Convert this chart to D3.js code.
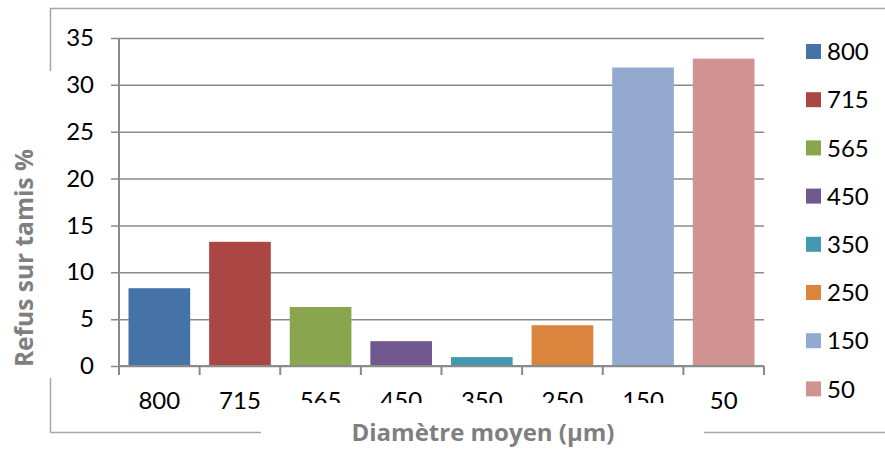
<!DOCTYPE html>
<html>
<head>
<meta charset="utf-8">
<script src="https://cdn.jsdelivr.net/npm/d3@7/dist/d3.min.js"></script>
<style>
  html, body { margin: 0; padding: 0; background: #ffffff; }
  svg { display: block; }
  text { font-family: Lato, "Open Sans", sans-serif; }
  .title { font-family: "Open Sans", Lato, sans-serif; }
</style>
</head>
<body>
<svg id="chart" width="885" height="450"></svg>
<script>
// Sieve residue by mean particle diameter
const categories = ["800", "715", "565", "450", "350", "250", "150", "50"];
const values = [8.3, 13.25, 6.3, 2.65, 0.95, 4.35, 31.85, 32.8];
const colors = ["#4572A7", "#AA4643", "#89A54E", "#71588F", "#4198AF", "#DB843D", "#93A9CF", "#D19392"];
const yTicks = [0, 5, 10, 15, 20, 25, 30, 35];

const svg = d3.select("#chart");
const plot = { left: 119, right: 764, top: 38, bottom: 366 };

const x = d3.scaleBand()
  .domain(categories)
  .range([plot.left, plot.right])
  .paddingInner(0.235)
  .paddingOuter(0.118);

const y = d3.scaleLinear()
  .domain([0, 35])
  .range([plot.bottom, plot.top]);

const gridColor = "#8a8a8a";
const frameColor = "#a6a6a6";

// Outer chart frame (broken where the axis titles sit)
const frame = svg.append("g")
  .attr("fill", "none")
  .attr("stroke", frameColor)
  .attr("stroke-width", 1.5);
frame.append("path").attr("d", "M50.5,432.5 V8.5 H885");
frame.append("path").attr("d", "M50.5,432.5 H885");

// Horizontal gridlines with outward tick stubs
const yAxis = d3.axisLeft(y)
  .tickValues(yTicks)
  .tickSize(plot.right - plot.left + 8)
  .tickFormat(d3.format("d"));
const gy = svg.append("g")
  .attr("transform", `translate(${plot.right},0)`)
  .call(yAxis);
gy.select(".domain").remove();
gy.selectAll(".tick line").attr("stroke", gridColor).attr("stroke-width", 1.5);
gy.selectAll(".tick text")
  .attr("fill", "#000")
  .attr("font-size", 24)
  .attr("x", -(plot.right - 94));

// Bars
svg.append("g")
  .selectAll("rect")
  .data(categories)
  .join("rect")
  .attr("x", d => x(d))
  .attr("width", x.bandwidth())
  .attr("y", (d, i) => y(values[i]))
  .attr("height", (d, i) => y(0) - y(values[i]))
  .attr("fill", (d, i) => colors[i]);

// Vertical axis line
svg.append("line")
  .attr("x1", plot.left).attr("x2", plot.left)
  .attr("y1", plot.top).attr("y2", plot.bottom + 8)
  .attr("stroke", gridColor).attr("stroke-width", 2);

// Category axis with tick marks on band boundaries
const gx = svg.append("g").attr("transform", `translate(0,${plot.bottom})`);
gx.append("line")
  .attr("x1", plot.left).attr("x2", plot.right)
  .attr("stroke", gridColor).attr("stroke-width", 2);
const edges = d3.range(categories.length + 1)
  .map(i => plot.left + i * (plot.right - plot.left) / categories.length);
gx.selectAll("line.tk")
  .data(edges)
  .join("line")
  .attr("class", "tk")
  .attr("x1", d => d).attr("x2", d => d)
  .attr("y1", 0).attr("y2", 9)
  .attr("stroke", gridColor).attr("stroke-width", 2);
gx.selectAll("text")
  .data(categories)
  .join("text")
  .attr("x", d => x(d) + x.bandwidth() / 2)
  .attr("y", 43)
  .attr("text-anchor", "middle")
  .attr("font-size", 24)
  .attr("fill", "#000")
  .text(d => d);

// Axis titles on white backing boxes
svg.append("rect")
  .attr("x", 261).attr("y", 403).attr("width", 443).attr("height", 47)
  .attr("fill", "#fff");
svg.append("text")
  .attr("class", "title")
  .attr("x", 483).attr("y", 441)
  .attr("text-anchor", "middle")
  .attr("font-size", 24)
  .attr("font-weight", "bold")
  .attr("fill", "#7f7f7f")
  .text("Diamètre moyen (µm)");

svg.append("rect")
  .attr("x", 0).attr("y", 71).attr("width", 56).attr("height", 307)
  .attr("fill", "#fff");
svg.append("text")
  .attr("class", "title")
  .attr("transform", "translate(33,258) rotate(-90)")
  .attr("text-anchor", "middle")
  .attr("font-size", 24.5)
  .attr("font-weight", "bold")
  .attr("fill", "#7f7f7f")
  .text("Refus sur tamis %");

// Legend
const legend = svg.append("g")
  .selectAll("g")
  .data(categories)
  .join("g")
  .attr("transform", (d, i) => `translate(806,${51.5 + i * 48.2})`);
legend.append("rect")
  .attr("x", 0).attr("y", -7.5)
  .attr("width", 15).attr("height", 15)
  .attr("fill", (d, i) => colors[i]);
legend.append("text")
  .attr("x", 21).attr("y", 0)
  .attr("dy", "0.36em")
  .attr("font-size", 24)
  .attr("fill", "#000")
  .text(d => d);
</script>
</body>
</html>
